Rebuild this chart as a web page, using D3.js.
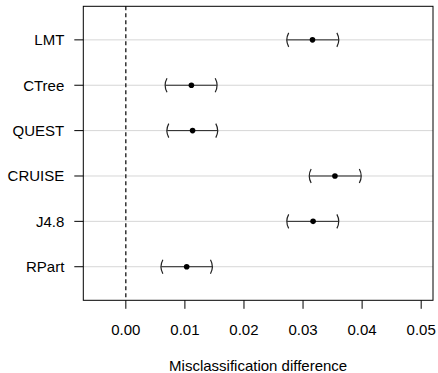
<!DOCTYPE html>
<html>
<head>
<meta charset="utf-8">
<script src="https://cdn.jsdelivr.net/npm/d3@7"></script>
<style>
  body { margin: 0; background: #fff; }
  svg text { font-family: "Liberation Sans", Arial, Helvetica, sans-serif; fill: #000; }
</style>
</head>
<body>
<div id="chart"></div>
<script>
// methods, listed bottom to top
const methods = ['RPart', 'J4.8', 'CRUISE', 'QUEST', 'CTree', 'LMT'];
const estimate = [0.0103, 0.0317, 0.0354, 0.0113, 0.0111, 0.0316];
const lower = [0.0060, 0.0273, 0.0311, 0.0070, 0.0067, 0.0273];
const upper = [0.0146, 0.0360, 0.0398, 0.0155, 0.0154, 0.0360];
const xTicks = [0, 0.01, 0.02, 0.03, 0.04, 0.05];
const xTitle = 'Misclassification difference';

const width = 438, height = 373;
const box = { left: 83.3, right: 433, top: 6.3, bottom: 300.3 };

const svg = d3.select('#chart').append('svg')
  .attr('width', width)
  .attr('height', height);

const x = d3.scaleLinear()
  .domain([-0.0072, 0.0520])
  .range([box.left, box.right]);

const y = d3.scaleLinear()
  .domain([0.26, 6.74])
  .range([box.bottom, box.top]);

const rows = methods.map((m, i) => ({ name: m, pos: i + 1, est: estimate[i], lo: lower[i], hi: upper[i] }));

// grid lines
svg.append('g').selectAll('line')
  .data(rows)
  .enter().append('line')
  .attr('x1', box.left).attr('x2', box.right)
  .attr('y1', d => y(d.pos)).attr('y2', d => y(d.pos))
  .attr('stroke', '#d6d6d6')
  .attr('stroke-width', 1);

// reference line at zero
svg.append('line')
  .attr('x1', x(0)).attr('x2', x(0))
  .attr('y1', box.top).attr('y2', box.bottom)
  .attr('stroke', '#000')
  .attr('stroke-width', 1.2)
  .attr('stroke-dasharray', '4,3');

// intervals
const bars = svg.append('g').selectAll('g')
  .data(rows)
  .enter().append('g');

bars.append('line')
  .attr('x1', d => x(d.lo)).attr('x2', d => x(d.hi))
  .attr('y1', d => y(d.pos)).attr('y2', d => y(d.pos))
  .attr('stroke', '#222')
  .attr('stroke-width', 1);

bars.append('path')
  .attr('d', d => {
    const cx = x(d.lo), cy = y(d.pos);
    return `M${cx + 1.6},${cy - 7} Q${cx - 2.2},${cy} ${cx + 1.6},${cy + 7}`;
  })
  .attr('fill', 'none').attr('stroke', '#222').attr('stroke-width', 1.2);

bars.append('path')
  .attr('d', d => {
    const cx = x(d.hi), cy = y(d.pos);
    return `M${cx - 1.6},${cy - 7} Q${cx + 2.2},${cy} ${cx - 1.6},${cy + 7}`;
  })
  .attr('fill', 'none').attr('stroke', '#222').attr('stroke-width', 1.2);

bars.append('circle')
  .attr('cx', d => x(d.est))
  .attr('cy', d => y(d.pos))
  .attr('r', 2.8)
  .attr('fill', '#000');

// frame
svg.append('rect')
  .attr('x', box.left).attr('y', box.top)
  .attr('width', box.right - box.left)
  .attr('height', box.bottom - box.top)
  .attr('fill', 'none')
  .attr('stroke', '#000')
  .attr('stroke-width', 1);

// x axis
const xAxis = svg.append('g');
xAxis.selectAll('line')
  .data(xTicks)
  .enter().append('line')
  .attr('x1', d => x(d)).attr('x2', d => x(d))
  .attr('y1', box.bottom).attr('y2', box.bottom + 8.5)
  .attr('stroke', '#000');
xAxis.selectAll('text')
  .data(xTicks)
  .enter().append('text')
  .attr('x', d => x(d))
  .attr('y', box.bottom + 34.5)
  .attr('text-anchor', 'middle')
  .style('font-size', '15px')
  .text(d => d3.format('.2f')(d));

// y axis
const yAxis = svg.append('g');
yAxis.selectAll('line')
  .data(rows)
  .enter().append('line')
  .attr('x1', box.left - 9).attr('x2', box.left)
  .attr('y1', d => y(d.pos)).attr('y2', d => y(d.pos))
  .attr('stroke', '#000');
yAxis.selectAll('text')
  .data(rows)
  .enter().append('text')
  .attr('x', box.left - 19)
  .attr('y', d => y(d.pos) + 5.4)
  .attr('text-anchor', 'end')
  .style('font-size', '15px')
  .text(d => d.name);

// axis title, centred under the plot box
svg.append('text')
  .attr('x', (box.left + box.right) / 2)
  .attr('y', 371)
  .attr('text-anchor', 'middle')
  .style('font-size', '15px')
  .text(xTitle);
</script>
</body>
</html>
